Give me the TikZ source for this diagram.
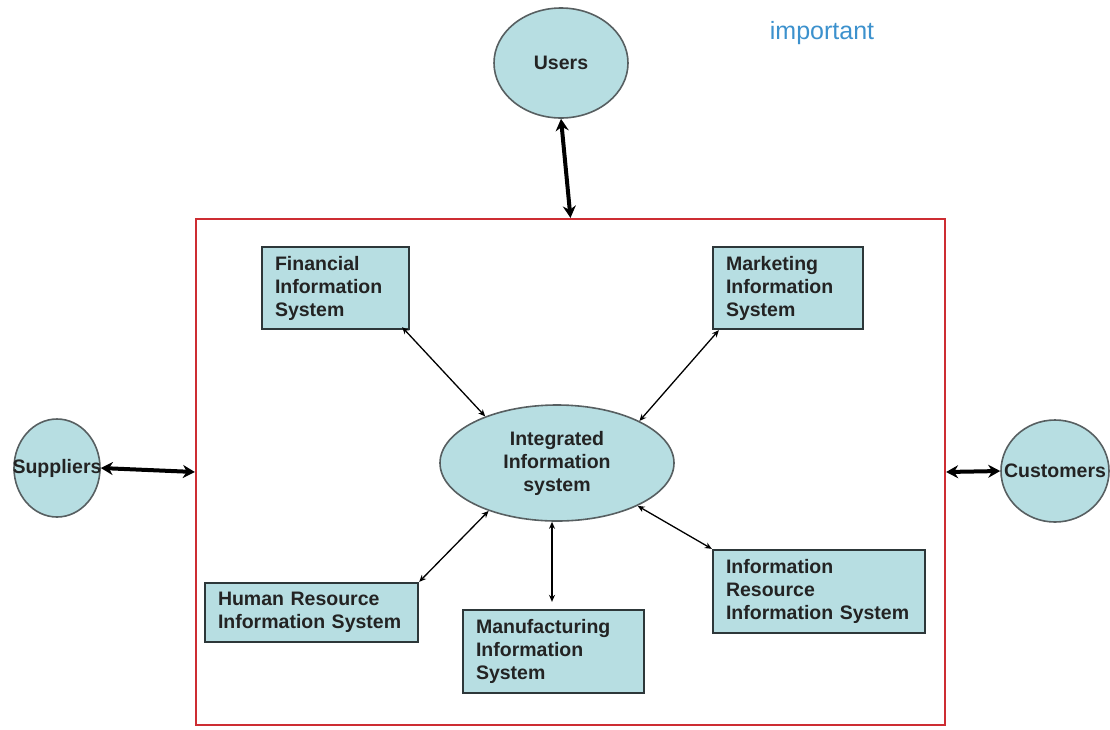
\documentclass[tikz,border=0pt]{standalone}
\usepackage{fontspec}
\setmainfont{Liberation Sans}
\usetikzlibrary{arrows.meta}
\definecolor{boxfill}{RGB}{183,222,226}
\definecolor{boxline}{RGB}{45,55,57}
\definecolor{txt}{RGB}{35,35,35}
\definecolor{framered}{RGB}{205,45,50}
\definecolor{impblue}{RGB}{60,145,205}
\tikzset{
  lbl/.style={font=\fontsize{19.5}{23}\selectfont\bfseries, text=txt},
  sysbox/.style={lbl, draw=boxline, fill=boxfill, line width=2.3pt, align=left, inner sep=0pt},
  oval/.style={lbl, ellipse, draw=boxline!80, fill=boxfill, line width=1.6pt, inner sep=0pt, align=center},
  thickarrow/.style={line width=4pt, {Stealth[length=12pt,width=13pt]}-{Stealth[length=12pt,width=13pt]}},
  thinarrow/.style={line width=1.3pt, {Stealth[length=7pt,width=6pt]}-{Stealth[length=7pt,width=6pt]}},
}
\usetikzlibrary{shapes.geometric}
\begin{document}
\begin{tikzpicture}[x=1pt,y=-1pt]
\useasboundingbox (0,0) rectangle (1110,729);
% frame
\node (frame) [draw=framered, line width=2.2pt, minimum width=749pt, minimum height=506pt, inner sep=0pt] at (570.5,472) {};
% ellipses
\node (users) [oval, minimum width=134pt, minimum height=110pt] at (561,63) {Users};
\node (sup) [oval, minimum width=86pt, minimum height=98pt] at (57,468) {};
\node (suptxt) [lbl] at (57,468) {Suppliers};
\node (cus) [oval, minimum width=108pt, minimum height=102pt] at (1055,471) {};
\node (custxt) [lbl] at (1055,471) {Customers};
\node (iis) [oval, minimum width=234pt, minimum height=116pt] at (557,463) {Integrated\\Information\\system};
\node (imp) [font=\fontsize{25}{30}\selectfont, text=impblue] at (822,33) {important};
% boxes
\node (fin) [sysbox, minimum width=147pt, minimum height=82pt, text width=121pt] at (335.5,288) {Financial\\Information\\System};
\node (mkt) [sysbox, minimum width=150pt, minimum height=82pt, text width=124pt] at (788,288) {Marketing\\Information\\System};
\node (hr) [sysbox, minimum width=213pt, minimum height=59pt, text width=187pt] at (311.5,612.5) {Human Resource\\Information System};
\node (man) [sysbox, minimum width=181pt, minimum height=83pt, text width=155pt] at (553.5,651.5) {Manufacturing\\Information\\System};
\node (ir) [sysbox, minimum width=212pt, minimum height=83pt, text width=186pt] at (819,591.5) {Information\\Resource\\Information System};
% thick arrows
\draw[thickarrow] (users.south) -- (frame.north);
\draw[thickarrow] (sup.east) -- (frame.west);
\draw[thickarrow] (frame.east) -- (cus.west);
% thin arrows
\draw[thinarrow] ([xshift=-8pt,yshift=3pt]fin.south east) -- (iis.147);
\draw[thinarrow] ([xshift=7pt]mkt.south west) -- (iis.27);
\draw[thinarrow] (hr.north east) -- (iis.215);
\draw[thinarrow] ([xshift=-5pt]iis.south) -- ([xshift=-1.5pt,yshift=7pt]man.north);
\draw[thinarrow] (iis.-28) -- (ir.north west);
\end{tikzpicture}
\end{document}
